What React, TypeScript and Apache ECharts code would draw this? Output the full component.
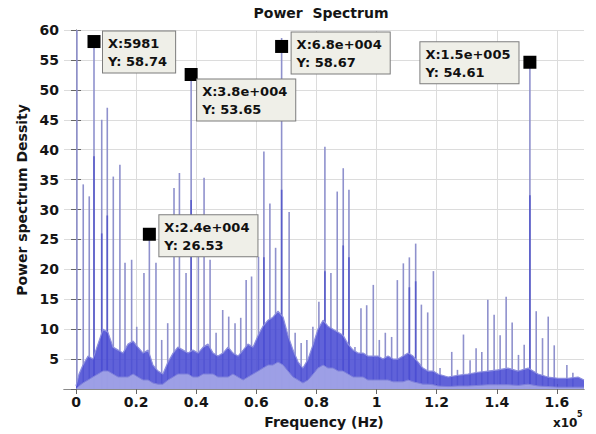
import React, { useEffect, useRef } from 'react';
import * as echarts from 'echarts';

// ---- data ----
const xTickValues = [0, 20000, 40000, 60000, 80000, 100000, 120000, 140000, 160000];

const spikeFreq = [300, 2400, 4400, 5981, 8550, 10400, 12400, 14600, 16300, 18500, 20200, 22600, 24400, 26600, 28500, 30500, 32600, 34400, 36600, 38300, 40700, 42600, 44600, 46600, 48800, 50800, 52900, 54800, 56600, 58400, 60700, 62500, 64500, 66400, 68400, 70900, 72900, 74900, 76800, 78800, 80800, 82800, 84800, 86900, 88900, 90800, 92800, 94800, 96700, 98900, 100900, 102900, 105000, 106900, 108900, 110900, 113000, 114900, 117000, 118900, 121100, 125000, 126900, 128900, 131100, 133100, 135000, 137000, 139100, 141100, 143100, 145100, 147200, 149100, 151000, 153100, 155200, 157100, 159100, 163300, 165300];
const spikeHeight = [61, 34.2, 32.2, 58.74, 45.0, 47.0, 35.5, 37.5, 21.1, 21.6, 10.4, 19.4, 26.53, 21.1, 8.2, 11.0, 33.6, 36.1, 19.4, 53.65, 22.1, 35.3, 21.6, 9.4, 13.2, 12.1, 11.0, 11.9, 18.2, 18.8, 22.1, 39.7, 31.0, 23.6, 58.67, 29.6, 9.4, 7.7, 8.2, 10.4, 14.6, 40.5, 19.4, 33.0, 36.9, 33.3, 7.0, 13.5, 14.0, 17.4, 8.2, 9.4, 8.7, 18.2, 21.0, 22.0, 24.3, 14.1, 12.8, 19.7, 3.5, 6.2, 3.2, 9.1, 4.8, 6.8, 6.2, 14.9, 12.4, 9.0, 15.4, 11.1, 5.7, 7.4, 54.61, 13.0, 8.5, 12.1, 7.3, 4.0, 2.7];

const innerFreq = [5981, 8550, 10400, 38300, 62500, 68400, 82800, 88900, 90800, 110900, 113000, 151000];
const innerHeight = [38.9, 26, 29, 31.6, 22, 33.3, 19.7, 24, 22, 17, 18, 32.4];

const floorFreq = [0, 1000, 2300, 4000, 5600, 7300, 9000, 10600, 12300, 14000, 15600, 17300, 19000, 20600, 22300, 24000, 25600, 27300, 28900, 30600, 32300, 33900, 35600, 37300, 38900, 40600, 42300, 43900, 45600, 47200, 48900, 50600, 52200, 53900, 55600, 57200, 58900, 60600, 62200, 63900, 65500, 67200, 68900, 70500, 72200, 73900, 75500, 77200, 78900, 80500, 82200, 83800, 85500, 87200, 88800, 90500, 92200, 93800, 95500, 97100, 98800, 100500, 102100, 103800, 105500, 107100, 108800, 110500, 112100, 113800, 115400, 117100, 118800, 120400, 123800, 127100, 130400, 133700, 137100, 140400, 143700, 147100, 150400, 153700, 157000, 160400, 163700, 167000, 169000];
const floorLow = [0, 0.5, 1, 1.5, 2, 2.5, 3, 3, 2.5, 2, 2, 2, 2.5, 2, 1.5, 1.5, 1, 0.8, 0.8, 1.5, 2, 2.5, 2.5, 2.5, 2, 2, 2.5, 2.5, 2.5, 2, 2, 2, 2.5, 2, 1.5, 2, 2.5, 3, 3.5, 4, 4, 4.5, 4, 3, 2, 1.5, 1, 1.5, 2.5, 3.5, 4, 3.5, 3.5, 3, 3, 2.5, 2, 2, 2, 1.5, 1.5, 1.5, 1.5, 1.5, 1.2, 1.2, 1.2, 1.5, 1.2, 1, 0.8, 0.8, 0.7, 0.5, 0.4, 0.5, 0.5, 0.6, 0.7, 0.7, 0.7, 0.6, 0.8, 0.5, 0.4, 0.3, 0.3, 0.3, 0.3];
const floorHigh = [0.5, 2.5, 4, 5.5, 5, 7.5, 10, 9.5, 7, 6.5, 6, 7.5, 8, 7, 6, 6.5, 4, 3, 2.5, 4.5, 6, 7, 6.5, 6, 6.5, 6, 7, 7.5, 6, 5.5, 6, 7, 6, 5.5, 6.5, 7.5, 7, 9, 10.5, 11.5, 12, 13, 12, 9, 6.5, 4.5, 3.5, 5, 7.5, 10, 11.5, 10.5, 10, 9.5, 9, 7.5, 6.5, 6, 6, 5.5, 5.5, 5.5, 5, 5.5, 5, 5, 5.5, 6, 5.5, 4.5, 3.5, 3, 3, 2.5, 2, 2.3, 2.5, 2.8, 3, 3.2, 3.5, 3, 3.5, 2.5, 2, 1.8, 1.8, 2, 1.5];

const tipFreq = [5981, 24400, 38300, 68400, 151000];
const tipValue = [58.74, 26.53, 53.65, 58.67, 54.61];
const tipXLabel = ['5981', '2.4e+004', '3.8e+004', '6.8e+004', '1.5e+005'];

// ---- styling / layout (not data) ----
const tipLayout = [
  { pos: [15.5, -3.5], dy: 4 },
  { pos: [16.5, -12.5], dy: 4 },
  { pos: [12.5, 11.5], dy: 6.5 },
  { pos: [16.5, -7.5], dy: 8.5 },
  { pos: [-103, -13.5], dy: 0 },
];

const FONT = '"DejaVu Sans", "Liberation Sans", Arial, sans-serif';

export default function App() {
  const ref = useRef<HTMLDivElement>(null);

  useEffect(() => {
    const chart = echarts.init(ref.current!, null, { renderer: 'svg' });

    const axisText = { fontFamily: FONT, fontWeight: 'bold' as const, fontSize: 14, color: '#151515' };
    const gridLine = { show: true, lineStyle: { color: '#dcdcdc', width: 1 } };
    const frameLine = { show: true, lineStyle: { color: '#8a8a8a', width: 1 } };

    const option: any = {
      animation: false,
      backgroundColor: '#ffffff',
      grid: { left: 64, right: 12, top: 30, bottom: 45, outerBoundsMode: 'none', containLabel: false },
      xAxis: [
        {
          type: 'value',
          min: -4000,
          max: 169000,
          position: 'bottom',
          axisLine: frameLine,
          axisTick: { show: true, inside: true, length: 5, customValues: xTickValues, lineStyle: { color: '#666' } },
          axisLabel: {
            ...axisText,
            margin: 6,
            customValues: xTickValues,
            formatter: (v: number) => String(parseFloat((v / 1e5).toFixed(1))),
          },
          splitLine: gridLine,
          name: 'Frequency (Hz)',
          nameLocation: 'middle',
          nameGap: 26,
          nameTextStyle: { ...axisText, fontSize: 14 },
        },
        {
          type: 'value',
          min: -4000,
          max: 169000,
          position: 'top',
          axisLine: frameLine,
          axisTick: { show: true, inside: true, length: 5, customValues: xTickValues, lineStyle: { color: '#666' } },
          axisLabel: { show: false },
          splitLine: { show: false },
        },
      ],
      yAxis: [
        {
          type: 'value',
          min: 0,
          max: 60,
          interval: 5,
          position: 'left',
          axisLine: frameLine,
          axisTick: { show: true, inside: true, length: 5, lineStyle: { color: '#666' } },
          axisLabel: { ...axisText, margin: 5, showMinLabel: false, formatter: (v: number) => (v === 0 ? '' : String(v)) },
          splitLine: gridLine,
        },
        {
          type: 'value',
          min: 0,
          max: 60,
          interval: 5,
          position: 'right',
          axisLine: frameLine,
          axisTick: { show: true, inside: true, length: 5, lineStyle: { color: '#666' } },
          axisLabel: { show: false },
          splitLine: { show: false },
        },
      ],
      graphic: [
        {
          type: 'text',
          x: 321,
          y: 13,
          style: { text: 'Power  Spectrum', font: `bold 14px ${FONT}`, fill: '#151515', align: 'center', verticalAlign: 'middle' },
        },
        {
          type: 'text',
          x: 22,
          y: 200,
          rotation: Math.PI / 2,
          style: { text: 'Power spectrum Dessity', font: `bold 14px ${FONT}`, fill: '#151515', align: 'center', verticalAlign: 'middle' },
        },
        {
          type: 'text',
          x: 553,
          y: 423,
          style: { text: 'x10', font: `bold 12px ${FONT}`, fill: '#151515', align: 'left', verticalAlign: 'middle' },
        },
        {
          type: 'text',
          x: 577,
          y: 414,
          style: { text: '5', font: `bold 8px ${FONT}`, fill: '#151515', align: 'left', verticalAlign: 'middle' },
        },
      ],
      series: [
        {
          type: 'bar',
          name: 'spikes',
          barWidth: 1.6,
          barGap: '-100%',
          data: spikeFreq.map((f, i) => [f, spikeHeight[i]]),
          itemStyle: { color: '#8f91cd' },
          clip: true,
        },
        {
          type: 'bar',
          name: 'spikesInner',
          barWidth: 1.6,
          barGap: '-100%',
          data: innerFreq.map((f, i) => [f, innerHeight[i]]),
          itemStyle: { color: '#5a5dca' },
          clip: true,
        },
        {
          type: 'line',
          name: 'floorHigh',
          symbol: 'none',
          lineStyle: { width: 1.2, color: '#8d8fdf' },
          areaStyle: { color: '#4a4cd4', opacity: 0.88, origin: 'start' },
          data: floorFreq.map((f, i) => [f, floorHigh[i]]),
        },
        {
          type: 'line',
          name: 'floorLow',
          symbol: 'none',
          lineStyle: { width: 1, color: '#7f81da' },
          areaStyle: { color: '#a4a6e7', opacity: 0.9, origin: 'start' },
          data: floorFreq.map((f, i) => [f, floorLow[i]]),
        },
        {
          type: 'scatter',
          name: 'tips',
          symbol: 'rect',
          symbolSize: 13,
          itemStyle: { color: '#000000', opacity: 1 },
          z: 10,
          label: {
            show: true,
            fontFamily: FONT,
            fontWeight: 'bold',
            fontSize: 13,
            lineHeight: 18,
            color: '#111',
            backgroundColor: '#efefe8',
            borderColor: '#7d7d7d',
            borderWidth: 1,
            padding: [3, 8, 2, 5],
            align: 'left',
            verticalAlign: 'top',
            formatter: (p: any) => `X:${tipXLabel[p.dataIndex]}\nY: ${tipValue[p.dataIndex].toFixed(2)}`,
          },
          data: tipFreq.map((f, i) => ({
            value: [f, tipValue[i]],
            symbolOffset: [0, tipLayout[i].dy],
            label: { position: tipLayout[i].pos },
          })),
        },
      ],
    };

    chart.setOption(option);
    return () => chart.dispose();
  }, []);

  return (
    <div
      ref={ref}
      style={{ position: 'fixed', left: 0, top: 0, width: 596, height: 434, background: '#ffffff' }}
    />
  );
}
